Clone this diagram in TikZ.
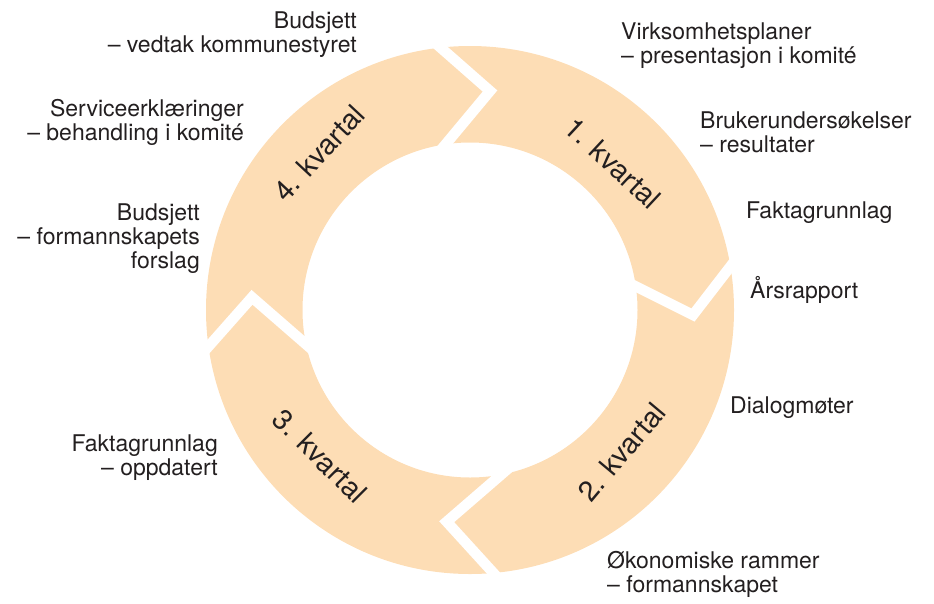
\documentclass[tikz,border=0pt]{standalone}
\usepackage{fontspec}
\setmainfont{TeX Gyre Heros}
\usetikzlibrary{calc}
\definecolor{ringcol}{RGB}{253,221,181}
\definecolor{ink}{RGB}{35,31,32}
\begin{document}
\begin{tikzpicture}[x=1pt,y=-1pt,
  lab/.style={text=ink, font=\fontsize{23}{24}\selectfont, inner sep=0pt},
  qlab/.style={text=ink, font=\fontsize{28.5}{30}\selectfont, inner sep=0pt},
  gapline/.style={draw=white, line width=10.5pt, miter limit=10, line join=miter}]
\useasboundingbox (0,0) rectangle (934,603);
\coordinate (c) at (470,310);
\fill[ringcol, even odd rule] (c) circle[radius=264] (c) circle[radius=167.5];
% gaps (chevrons)
\coordinate (g1o) at (441,48);   \coordinate (g1t) at (490,91);   \coordinate (g1i) at (445,145);
\coordinate (g2o) at (730,267);  \coordinate (g2t) at (693,315);  \coordinate (g2i) at (635,286);
\coordinate (g3o) at (493.7,573.3); \coordinate (g3t) at (446.7,521.7); \coordinate (g3i) at (500.7,475);
\coordinate (g4o) at (208.3,346.7); \coordinate (g4t) at (252,297.3); \coordinate (g4i) at (305.7,344);
\foreach \g in {1,2,3,4}{
  \draw[gapline] ($(g\g t)!1.3!(g\g o)$) -- (g\g t) -- ($(g\g t)!1.3!(g\g i)$);
}
% quarter labels
\node[qlab, rotate=-43] (q1) at (613,163) {1. kvartal};
\node[qlab, rotate=50]  (q2) at (622,452) {2. kvartal};
\node[qlab, rotate=-45] (q3) at (320,456) {3. kvartal};
\node[qlab, rotate=47]  (q4) at (319,153) {4. kvartal};
% annotations (anchor base = baseline of last line)
\node[lab, align=right, anchor=base east] (t1) at (357,52) {Budsjett\\– vedtak kommunestyret};
\node[lab, align=left, anchor=base west] (t2) at (621,63) {Virksomhetsplaner\\– presentasjon i komité};
\node[lab, align=left, anchor=base west] (t3) at (700,152) {Brukerundersøkelser\\– resultater};
\node[lab, anchor=base west] (t4) at (746,218) {Faktagrunnlag};
\node[lab, anchor=base west] (t5) at (750,298) {Årsrapport};
\node[lab, anchor=base west] (t6) at (730,413) {Dialogmøter};
\node[lab, align=left, anchor=base west] (t7) at (607,592) {Økonomiske rammer\\– formannskapet};
\node[lab, align=right, anchor=base east] (t8) at (218,475) {Faktagrunnlag\\– oppdatert};
\node[lab, align=right, anchor=base east] (t9) at (200,268) {Budsjett\\– formannskapets\\forslag};
\node[lab, align=right, anchor=base east] (t10) at (244,140) {Serviceerklæringer\\– behandling i komité};
\end{tikzpicture}
\end{document}
